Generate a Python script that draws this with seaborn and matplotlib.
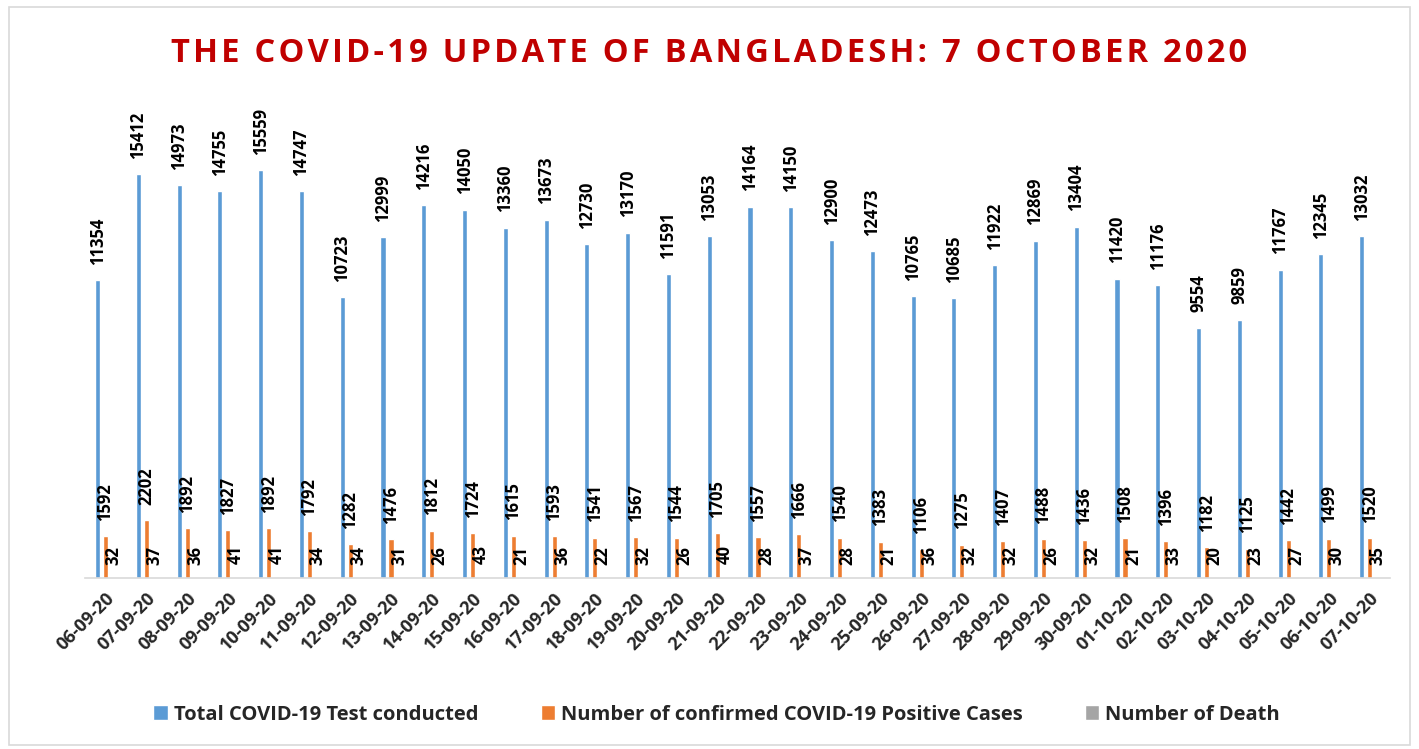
import pandas as pd
import seaborn as sns
import matplotlib.pyplot as plt
from matplotlib.patches import Rectangle

dates = ["06-09-20", "07-09-20", "08-09-20", "09-09-20", "10-09-20", "11-09-20",
         "12-09-20", "13-09-20", "14-09-20", "15-09-20", "16-09-20", "17-09-20",
         "18-09-20", "19-09-20", "20-09-20", "21-09-20", "22-09-20", "23-09-20",
         "24-09-20", "25-09-20", "26-09-20", "27-09-20", "28-09-20", "29-09-20",
         "30-09-20", "01-10-20", "02-10-20", "03-10-20", "04-10-20", "05-10-20",
         "06-10-20", "07-10-20"]
tests = [11354, 15412, 14973, 14755, 15559, 14747, 10723, 12999, 14216, 14050,
         13360, 13673, 12730, 13170, 11591, 13053, 14164, 14150, 12900, 12473,
         10765, 10685, 11922, 12869, 13404, 11420, 11176, 9554, 9859, 11767,
         12345, 13032]
positive = [1592, 2202, 1892, 1827, 1892, 1792, 1282, 1476, 1812, 1724, 1615,
            1593, 1541, 1567, 1544, 1705, 1557, 1666, 1540, 1383, 1106, 1275,
            1407, 1488, 1436, 1508, 1396, 1182, 1125, 1442, 1499, 1520]
deaths = [32, 37, 36, 41, 41, 34, 34, 31, 26, 43, 21, 36, 22, 32, 26, 40, 28,
          37, 28, 21, 36, 32, 32, 26, 32, 21, 33, 20, 23, 27, 30, 35]

series = ["Total COVID-19 Test conducted",
          "Number of confirmed COVID-19 Positive Cases",
          "Number of Death"]
colors = ["#5B9BD5", "#ED7D31", "#A5A5A5"]
title = "THE COVID-19 UPDATE OF BANGLADESH: 7 OCTOBER 2020"

df = pd.DataFrame({
    "date": dates * 3,
    "value": tests + positive + deaths,
    "series": [series[0]] * len(dates) + [series[1]] * len(dates) + [series[2]] * len(dates),
})

sns.set_style("white")
plt.rcParams["font.family"] = ["Open Sans", "DejaVu Sans"]
plt.rcParams["font.weight"] = "bold"

fig = plt.figure(figsize=(14.19, 7.49), dpi=100)
ax = fig.add_axes([0.060, 0.2283, 0.9196, 0.63])

sns.barplot(data=df, x="date", y="value", hue="series", palette=colors,
            width=0.585, gap=0.36, ax=ax, saturation=1)

pads = [11, 11, 9]
for cont, pad in zip(ax.containers, pads):
    ax.bar_label(cont, fmt="%d", rotation=90, padding=pad,
                 fontsize=12, fontweight="bold", color="black")

ax.set_ylim(0, 18000)
ax.set_xlim(-0.5, len(dates) - 0.5)
ax.set_xlabel("")
ax.set_ylabel("")
ax.set_yticks([])
for s in ["top", "right", "left"]:
    ax.spines[s].set_visible(False)
ax.spines["bottom"].set_color("#D9D9D9")
ax.spines["bottom"].set_linewidth(1.2)

ax.set_xticks(range(len(dates)))
ax.set_xticklabels(dates, rotation=45, ha="right", rotation_mode="anchor",
                   fontsize=13, fontweight="bold")
ax.tick_params(axis="x", which="major", length=0, pad=8)
ax.set_xticks([i - 0.5 for i in range(len(dates) + 1)], minor=True)
ax.tick_params(axis="x", which="minor", length=6, color="#D9D9D9", width=1.2)

handles, labels = ax.get_legend_handles_labels()
ax.get_legend().remove()
fig.legend(handles, labels, loc="center", bbox_to_anchor=(0.505, 0.046), ncol=3,
           frameon=False, handlelength=0.7, handleheight=0.7, handletextpad=0.3,
           columnspacing=3.1, prop={"size": 14.5, "weight": "bold"})

# letter-spaced title
fig.suptitle("\u200a".join(title), y=0.95,
             fontsize=23.5, fontweight="bold", color="#C00000")

fig.patches.append(Rectangle((0.006, 0.005), 0.988, 0.985, transform=fig.transFigure,
                             fill=False, ec="#D9D9D9", lw=1.2))

fig.savefig("out.png", dpi=100)
